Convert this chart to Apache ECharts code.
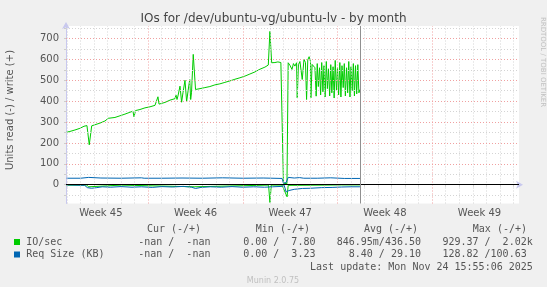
<!DOCTYPE html>
<html><head><meta charset="utf-8">
<script src="https://cdn.jsdelivr.net/npm/echarts@6/dist/echarts.min.js"></script>
<style>html,body{margin:0;padding:0;background:#f0f0f0}#c{width:547px;height:287px}</style>
</head><body><div id="c"></div><script>
// x values are days from Monday of week 45
const weekLabels = ['Week 45','Week 46','Week 47','Week 48','Week 49'];
const weekCenters = [3.5, 10.5, 17.5, 24.5, 31.5];
const weekStarts = [7, 14, 21, 28];
const dayTicks = [1,2,3,4,5,6,8,9,10,11,12,13,15,16,17,18,19,20,22,23,24,25,26,27,29,30,31,32,33,34];
const yMajor = [0,100,200,300,400,500,600,700];
const yMinor = [-50,50,150,250,350,450,550,650,750];
const nowDay = 22.66;

const ioWrite = [
[0.97,252],[1.21,255],[1.58,262],[1.95,270],[2.25,280],[2.32,287],[2.47,283],[2.64,191],[2.82,282],[3.06,287],[3.43,295],[3.80,305],[4.04,318],[4.17,314],[4.54,322],[4.91,330],[5.28,338],[5.65,347],[5.87,352],[5.95,325],[6.06,355],[6.39,360],[6.76,368],[7.13,373],[7.50,380],[7.72,421],[7.80,386],[8.24,394],[8.61,405],[8.98,412],[9.05,430],[9.13,408],[9.20,425],[9.35,472],[9.47,395],[9.57,440],[9.72,500],[9.84,398],[9.95,450],[10.07,504],[10.14,408],[10.20,440],[10.33,624],[10.50,456],[10.83,460],[11.19,465],[11.56,470],[11.93,478],[12.30,483],[12.67,490],[13.04,497],[13.41,505],[13.78,512],[14.15,520],[14.52,530],[14.89,540],[15.26,553],[15.63,563],[15.88,573],[16.00,734],[16.13,584],[16.37,585],[16.59,588],[16.81,585],[16.94,592],[17.00,7],[17.11,3],[17.26,5],[17.35,584],
[17.48,572],[17.63,552],[17.74,580],[17.85,568],[17.97,584],[18.02,416],[18.11,575],[18.22,590],[18.39,504],[18.52,600],[18.63,585],[18.71,408],[18.80,598],[18.90,613],[19.00,590],[19.03,416],[19.12,576],[19.25,580],
[19.33,560],[19.42,424],[19.50,580],[19.58,470],[19.67,560],[19.75,430],[19.83,585],[19.92,445],[20.00,570],[20.08,420],[20.17,590],[20.25,460],[20.33,555],[20.42,425],[20.50,575],[20.58,440],[20.67,565],[20.75,415],[20.83,595],[20.92,450],[21.00,560],[21.08,430],[21.17,585],[21.25,420],[21.33,570],[21.42,465],[21.50,580],[21.58,425],[21.67,560],[21.75,440],[21.83,590],[21.92,420],[22.00,565],[22.08,450],[22.17,580],[22.25,425],[22.33,570],[22.42,435],[22.50,575],[22.58,440],[22.66,456]
];
const ioRead = [
[0.97,-2],[2.30,-2],[2.35,-8],[2.45,-2],[2.60,-10],[2.70,-2],[5.00,-2],[10.40,-10],[10.50,-2],[15.90,-2],[16.00,-85],[16.10,-2],[16.90,-2],[17.00,-1],[17.27,-58],[17.35,-3],[20.00,-2],[21.30,-1],[22.66,-1]
];
const reqWrite = [
[0.97,31],[2.0,31],[2.6,35],[2.7,31],[3.5,32],[5.0,31],[6.5,33],[6.6,35],[6.7,31],[8.0,31],[9.5,32],[11.0,31],[12.5,33],[14.0,31],[15.5,32],[16.9,30],[17.0,8],[17.2,10],[17.35,35],[17.8,32],[18.2,34],[18.5,31],[19.5,31],[20.5,33],[21.5,30],[22.66,30]
];
const reqRead = [
[0.97,-1],[2.3,-3],[2.5,-14],[2.8,-17],[3.2,-14],[3.6,-10],[4.2,-12],[5.0,-9],[5.8,-12],[6.5,-10],[7.3,-13],[8.0,-9],[8.8,-11],[9.6,-8],[10.2,-12],[10.5,-18],[10.9,-13],[11.6,-10],[12.4,-12],[13.2,-9],[14.0,-12],[14.8,-10],[15.6,-12],[16.2,-10],[16.9,-8],[17.05,-2],[17.2,-35],[17.4,-28],[17.8,-22],[18.4,-18],[19.0,-17],[19.8,-14],[20.6,-13],[21.3,-11],[22.0,-10],[22.66,-10]
];

const GREEN = '#00cc00', BLUE = '#0066b3';
const mono = '"DejaVu Sans Mono", monospace';
const sans = '"DejaVu Sans", sans-serif';
const minorStyle = {color:'#d4d4d4', type:[1,2], width:1};
const majorStyle = {color:'#f0a0a0', type:[1,2], width:1};

const gridLines = []
  .concat(dayTicks.map(d => ({xAxis:d, lineStyle:minorStyle})))
  .concat(yMinor.map(v => ({yAxis:v, lineStyle:minorStyle})))
  .concat(weekStarts.map(d => ({xAxis:d, lineStyle:majorStyle})))
  .concat(yMajor.map(v => ({yAxis:v, lineStyle:majorStyle})));

function lineSeries(name, data, color, z) {
  return {name, type:'line', data, symbol:'none', showSymbol:false, z,
    lineStyle:{color, width:1}, itemStyle:{color}, animation:false, silent:true};
}

const chart = echarts.init(document.getElementById('c'), null, {renderer:'canvas'});
const legendRows = [
  {y:242, color:GREEN, cells:['IO/sec','-nan /  -nan','0.00 /  7.80','846.95m/436.50','929.37 /  2.02k']},
  {y:254.5, color:BLUE, cells:['Req Size (KB)','-nan /  -nan','0.00 /  3.23','8.40 / 29.10','128.82 /100.63']}
];
const cellX = [26.2, 138.2, 243.2, 0, 442.4];
const cellRight = [null, null, null, 421, null];
const graphics = [
  {type:'text', left:'center', top:13, style:{text:'IOs for /dev/ubuntu-vg/ubuntu-lv - by month', font:'12px '+sans, fill:'#444'}},
  {type:'text', x:10, y:110, rotation:Math.PI/2, style:{text:'Units read (-) / write (+)', font:'10px '+sans, fill:'#555', align:'center', verticalAlign:'middle'}},
  {type:'text', x:542.6, y:62, rotation:-Math.PI/2, style:{text:'RRDTOOL / TOBI OETIKER', font:'7px '+sans, fill:'#c0c0c0', align:'center', verticalAlign:'middle'}},
  {type:'text', x:146.9, y:229, style:{text:'Cur (-/+)', font:'10px '+mono, fill:'#555', verticalAlign:'middle'}},
  {type:'text', x:255.8, y:229, style:{text:'Min (-/+)', font:'10px '+mono, fill:'#555', verticalAlign:'middle'}},
  {type:'text', x:363.9, y:229, style:{text:'Avg (-/+)', font:'10px '+mono, fill:'#555', verticalAlign:'middle'}},
  {type:'text', x:472.8, y:229, style:{text:'Max (-/+)', font:'10px '+mono, fill:'#555', verticalAlign:'middle'}},
  {type:'text', x:532.8, y:267, style:{text:'Last update: Mon Nov 24 15:55:06 2025', font:'10px '+mono, fill:'#555', align:'right', verticalAlign:'middle'}},
  {type:'text', x:273, y:280.5, style:{text:'Munin 2.0.75', font:'8px '+sans, fill:'#c0c0c0', align:'center', verticalAlign:'middle'}}
];
legendRows.forEach(r => {
  graphics.push({type:'rect', shape:{x:14, y:r.y-3, width:6, height:6}, style:{fill:r.color}});
  r.cells.forEach((t,i) => {
    if (cellRight[i] !== null) {
      graphics.push({type:'text', x:cellRight[i], y:r.y, style:{text:t, font:'10px '+mono, fill:'#555', align:'right', verticalAlign:'middle'}});
    } else {
      graphics.push({type:'text', x:cellX[i], y:r.y, style:{text:t, font:'10px '+mono, fill:'#555', verticalAlign:'middle'}});
    }
  });
});

chart.setOption({
  animation:false,
  backgroundColor:'#f0f0f0',
  grid:{left:66, top:26, width:453, height:177.5, show:true, backgroundColor:'#ffffff', borderWidth:0},
  xAxis:{type:'value', min:0.92, max:34.42,
    axisLine:{show:true, lineStyle:{color:'#c8c8ee', width:1}, symbol:['none','arrow'], symbolSize:[6,7], symbolOffset:[0,4]},
    axisTick:{show:true, customValues:dayTicks, length:2, lineStyle:{color:'#cccccc'}},
    splitLine:{show:false},
    axisLabel:{customValues:weekCenters, formatter:v => weekLabels[weekCenters.indexOf(v)], color:'#555', fontFamily:sans, fontSize:10, margin:5}
  },
  yAxis:{type:'value', min:-90, max:760,
    axisLine:{show:true, lineStyle:{color:'#c8c8ee', width:1}, symbol:['none','arrow'], symbolSize:[6,7], symbolOffset:[0,4]},
    axisTick:{show:true, customValues:yMinor.concat(yMajor), length:2, lineStyle:{color:'#cccccc'}},
    splitLine:{show:false},
    axisLabel:{customValues:yMajor, color:'#555', fontFamily:sans, fontSize:10, margin:7}
  },
  graphic:graphics,
  series:[
    {type:'line', data:[], z:1, silent:true, markLine:{silent:true, symbol:'none', label:{show:false}, animation:false, data:gridLines}},
    lineSeries('IO/sec read', ioRead, GREEN, 3),
    lineSeries('IO/sec write', ioWrite, GREEN, 3),
    lineSeries('Req Size read', reqRead, BLUE, 4),
    lineSeries('Req Size write', reqWrite, BLUE, 4),
    {type:'line', data:[], z:5, silent:true, markLine:{silent:true, symbol:'none', label:{show:false}, animation:false,
      data:[{yAxis:0, lineStyle:{color:'#000000', type:'solid', width:1}}, {xAxis:nowDay, lineStyle:{color:'#909090', type:'solid', width:1}}]}}
  ]
});
</script></body></html>
